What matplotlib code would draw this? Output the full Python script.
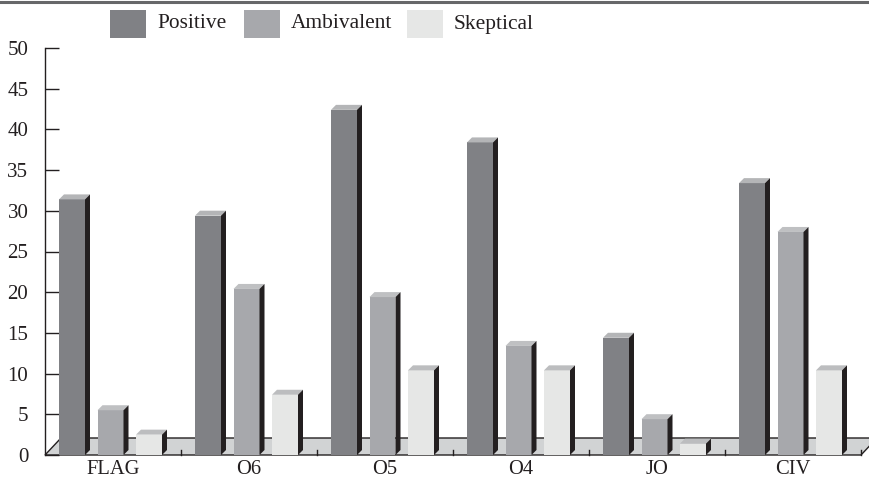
import matplotlib
matplotlib.use('Agg')
from matplotlib import pyplot as plt
from matplotlib.patches import Polygon, Rectangle
import numpy as np

categories = ['FLAG', 'O6', 'O5', 'O4', 'JO', 'CIV']
positive = [31.4, 29.4, 42.4, 38.4, 14.4, 33.4]
ambivalent = [5.5, 20.4, 19.4, 13.4, 4.4, 27.4]
skeptical = [2.5, 7.4, 10.4, 10.4, 1.4, 10.4]
y_ticks = [0, 5, 10, 15, 20, 25, 30, 35, 40, 45, 50]

W, H = 869, 478
x0, x1 = 45, 861
y0, y50 = 455, 48

plt.rcParams['font.family'] = 'Liberation Serif'
fig = plt.figure(figsize=(W / 100, H / 100), dpi=100)
ax = fig.add_axes([x0 / W, 1 - y0 / H, (x1 - x0) / W, (y0 - y50) / H])
ax.set_xlim(0, 6)
ax.set_ylim(0, 50)
ax.patch.set_visible(False)
for s in ['top', 'right', 'bottom']:
    ax.spines[s].set_visible(False)
ax.spines['left'].set_linewidth(1.0)
ax.spines['left'].set_color('#231f20')

# pixel sizes converted to data units
ux = 6 / (x1 - x0)
uy = 50 / (y0 - y50)
bw = 26 * ux
step = 38.5 * ux
first = 14 * ux
dx, dy = 5 * ux, 5 * uy
floor_x, floor_y = 16 * ux, 17 * uy
ink = '#231f20'

# floor
ax.add_patch(Polygon([(0, 0), (floor_x, floor_y), (6 + floor_x, floor_y), (6, 0)],
                     fc='#d1d3d4', ec=ink, lw=1.0, clip_on=False, zorder=1))
for i in range(1, 7):
    ax.plot([i, i], [0, 5.5 * uy], color=ink, lw=1.0, zorder=1.5, clip_on=False)


def bar3d(x, v, front, top):
    ax.add_patch(Rectangle((x, 0), bw, v, fc=front, ec='none', zorder=3))
    ax.add_patch(Polygon([(x, v), (x + dx, v + dy), (x + bw + dx, v + dy), (x + bw, v)],
                         fc=top, ec='none', zorder=3))
    ax.add_patch(Polygon([(x + bw, 0), (x + bw + dx, dy), (x + bw + dx, v + dy), (x + bw, v)],
                         fc=ink, ec='none', zorder=3))


colors = [('#808185', '#b4b5b7'), ('#a7a8ac', '#bfc0c2'), ('#e6e7e6', '#bcbdbf')]
for i in range(len(categories)):
    for j, vals in enumerate([positive, ambivalent, skeptical]):
        bar3d(i + first + j * step, vals[i], colors[j][0], colors[j][1])

ax.set_xticks(np.arange(len(categories)) + 0.5)
ax.set_xticklabels(categories, fontsize=14.8, color=ink)
ax.tick_params(axis='x', length=0, pad=3.5)
ax.set_yticks(y_ticks)
ax.tick_params(axis='y', direction='in', length=10, width=1.0, color=ink,
               labelsize=15, labelcolor=ink, pad=12)

# top rule
fig.add_artist(plt.Line2D([0, 1], [1 - 1.5 / H, 1 - 1.5 / H], color='#666769', lw=2.2))

# legend
legend_names = ['Positive', 'Ambivalent', 'Skeptical']
for name, px, c in zip(legend_names, [110, 244, 407], ['#808185', '#a7a8ac', '#e6e7e6']):
    fig.add_artist(Rectangle((px / W, 1 - 38 / H), 36 / W, 28 / H, fc=c, ec='none',
                             transform=fig.transFigure))
    fig.text((px + 47) / W, 1 - 28.5 / H, name, fontsize=15.4, color=ink, va='baseline')

fig.savefig('out.png', dpi=100)
